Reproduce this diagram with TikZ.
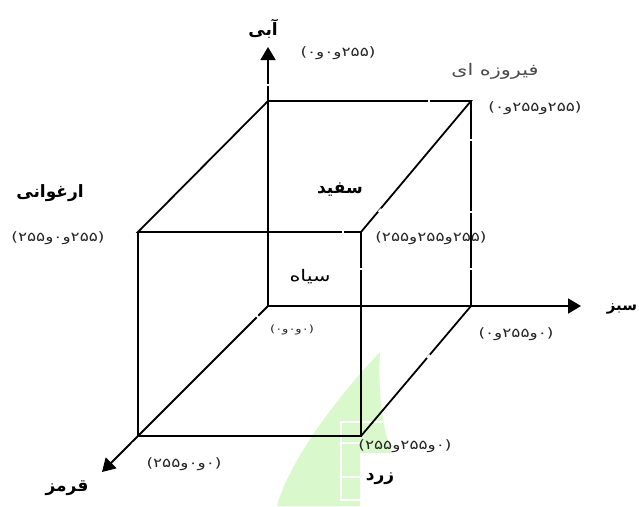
\documentclass[tikz,border=0pt]{standalone}
\usepackage{fontspec}
\usetikzlibrary{arrows.meta}
\TeXXeTstate=1
\newfontfamily\arabicfont[Script=Arabic]{DejaVu Sans}
\newfontfamily\valfont[Script=Arabic,FakeStretch=1.3]{DejaVu Sans}
\definecolor{wmgreen}{HTML}{D9F9CC}
\newcommand{\RL}[1]{\beginR #1\endR}
\tikzset{
  edgeline/.style={line width=1.8pt,black},
  axisline/.style={line width=1.8pt,black,-{Triangle[length=13pt,width=15pt]}},
  gapline/.style={line width=2pt,white,line cap=butt},
  wmline/.style={line width=1.2pt,white},
  valuelabel/.style={font=\valfont\fontsize{13}{15}\selectfont,inner sep=0pt,text=black!85},
  smallvalue/.style={font=\valfont\fontsize{10}{12}\selectfont,inner sep=0pt,text=black!85},
  colorname/.style={font=\arabicfont\fontsize{17}{18}\selectfont\bfseries,inner sep=0pt},
  plainname/.style={font=\valfont\fontsize{16}{18}\selectfont,inner sep=0pt}
}
\begin{document}
\begin{tikzpicture}[x=1pt,y=-1pt]
\useasboundingbox (0,0) rectangle (639,506);
\fill[white] (0,0) rectangle (639,506);
% watermark
\fill[wmgreen] (277,506) .. controls (288,465) and (330,405) .. (380,352)
  .. controls (378,385) and (381,425) .. (392,453) -- (360,453) -- (360,506) -- cycle;
\draw[wmline] (384,422) -- (341,422) -- (341,500) -- (360,500);
\draw[wmline] (341,443) -- (360,443) (341,477) -- (360,477);
% corners
\coordinate (o) at (268,306);
\coordinate (b) at (268,101);
\coordinate (g) at (471,306);
\coordinate (c) at (471,101);
\coordinate (m) at (138,232);
\coordinate (w) at (361,232);
\coordinate (r) at (138,436);
\coordinate (y) at (361,436);
\coordinate (bt) at (268,47);
\coordinate (gt) at (581,306);
\coordinate (rt) at (102,472);
% cube
\draw[edgeline] (m) -- (w) -- (c) -- (b) -- cycle;
\draw[edgeline] (m) -- (r) -- (y) -- (w);
\draw[edgeline] (c) -- (g) -- (y);
\draw[edgeline] (r) -- (o);
\draw[axisline] (o) -- (bt);
\draw[axisline] (o) -- (gt);
\draw[axisline] (r) -- (rt);
% small breaks
\draw[gapline] (266,84.5) -- (270,84.5);
\draw[gapline] (429,99) -- (429,103);
\draw[gapline] (439.5,142.5) -- (442.5,139);
\draw[gapline] (469,140) -- (473,140);
\draw[gapline] (469,212) -- (473,212);
\draw[gapline] (378.5,212) -- (381.5,209);
\draw[gapline] (343,230) -- (343,234);
\draw[gapline] (359,269) -- (363,269);
\draw[gapline] (469,269) -- (473,269);
\draw[gapline] (427,358) -- (430,355);
\draw[gapline] (256,315) -- (259,318);
\draw[gapline] (132,444) -- (136,442);
% labels
\node[colorname] (nb) at (263,29) {\RL{آبی}};
\node[valuelabel] (vb) at (338,53) {(۲۵۵و۰و۰)};
\node[plainname,text=black!70] (nc) at (495,71) {\RL{فیروزه ای}};
\node[valuelabel] (vc) at (535,108) {(۲۵۵و۲۵۵و۰)};
\node[colorname] (nm) at (50,193) {\RL{ارغوانی}};
\node[valuelabel] (vm) at (58,238) {(۲۵۵و۰و۲۵۵)};
\node[colorname] (nw) at (340,190) {\RL{سفید}};
\node[valuelabel] (vw) at (431,238) {(۲۵۵و۲۵۵و۲۵۵)};
\node[plainname] (nk) at (310,277) {\RL{سیاه}};
\node[smallvalue] (vk) at (292,330) {(۰و۰و۰)};
\node[valuelabel] (vg) at (516,334) {(۰و۲۵۵و۰)};
\node[colorname,font=\arabicfont\fontsize{15}{18}\selectfont\bfseries] (ng) at (622,309) {\RL{سبز}};
\node[valuelabel] (vy) at (405,446) {(۰و۲۵۵و۲۵۵)};
\node[colorname] (ny) at (380,479) {\RL{زرد}};
\node[valuelabel] (vr) at (184,464) {(۰و۰و۲۵۵)};
\node[colorname] (nr) at (67,488) {\RL{قرمز}};
\end{tikzpicture}
\end{document}
